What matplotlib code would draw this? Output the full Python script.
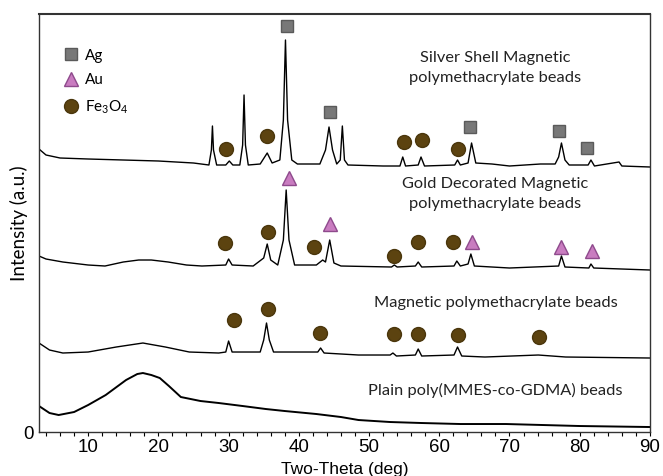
import matplotlib
matplotlib.use('Agg')
import matplotlib.pyplot as plt
from matplotlib.lines import Line2D

plt.rcParams['mathtext.fontset'] = 'custom'
plt.rcParams['mathtext.rm'] = 'Lato'

# XRD patterns (two-theta in deg, intensity in a.u.)
silver_x = [3.0, 4.0, 6.0, 10.0, 15.0, 20.0, 25.0, 27.2, 27.55, 27.7, 27.85, 28.3,
            29.6, 30.1, 30.6, 31.6, 32.0, 32.2, 32.4, 32.8, 34.5, 35.5, 36.2,
            37.3, 37.8, 38.1, 38.4, 39.0, 39.8, 43.0, 43.8, 44.3, 44.8, 45.4,
            45.9, 46.2, 46.5, 47.0, 52.0, 54.4, 54.8, 55.2, 57.0, 57.4, 57.9,
            62.2, 62.6, 63.0, 64.1, 64.6, 65.2, 67.5, 70.0, 74.4, 76.5, 77.0,
            77.4, 77.9, 78.5, 81.2, 81.6, 82.1, 85.6, 86.0, 90.0]
silver_y = [283, 277, 274, 273, 272, 271, 269, 267, 282, 306, 282, 267,
            267, 271, 267, 267, 287, 337, 287, 267, 268, 279, 269,
            272, 312, 392, 312, 272, 268, 268, 282, 305, 282, 268,
            272, 306, 272, 267, 266, 266, 275, 266, 267, 275, 266,
            267, 272, 267, 269, 289, 269, 268, 266, 268, 268, 275,
            289, 272, 267, 267, 272, 266, 270, 266, 265]

gold_x = [3.0, 4.0, 6.4, 10.0, 12.4, 15.0, 17.2, 19.0, 21.4, 24.0, 26.2, 29.6,
          30.0, 30.5, 33.5, 35.0, 35.5, 36.0, 37.0, 37.8, 38.2, 38.6, 39.4,
          42.5, 43.4, 43.8, 44.4, 45.0, 46.0, 53.2, 53.6, 54.0, 56.6, 57.0,
          57.5, 62.1, 62.5, 63.0, 64.1, 64.5, 65.0, 70.0, 77.0, 77.4, 77.9,
          81.3, 81.6, 82.0, 86.0, 90.0]
gold_y = [176, 173, 170, 167, 166, 170, 172, 172, 170, 167, 166, 167,
          173, 167, 166, 174, 188, 172, 167, 192, 242, 192, 167,
          167, 172, 170, 192, 169, 166, 165, 167, 165, 166, 170,
          165, 166, 171, 166, 168, 178, 166, 164, 166, 176, 165,
          164, 168, 164, 163, 162]

magnetic_x = [3.0, 4.5, 6.4, 10.0, 14.0, 17.8, 21.0, 24.4, 28.6, 29.6, 30.0,
              30.5, 34.5, 35.0, 35.4, 35.8, 36.4, 39.5, 42.7, 43.1, 43.6, 48.5,
              53.0, 53.4, 53.9, 56.6, 57.0, 57.5, 62.1, 62.6, 63.2, 66.5, 74.1,
              78.0, 90.0]
magnetic_y = [89, 82, 79, 80, 85, 89, 85, 80, 79, 80, 91,
              80, 80, 92, 109, 92, 80, 80, 80, 84, 79, 77,
              77, 79, 76, 77, 83, 76, 77, 85, 76, 75, 77,
              75, 74]

plain_x = [3.0, 4.5, 5.8, 8.0, 10.0, 12.5, 15.4, 17.0, 17.8, 19.0, 20.2, 21.5,
           23.2, 26.0, 28.6, 32.0, 35.3, 38.0, 42.5, 46.0, 48.5, 53.0, 57.5,
           63.0, 69.5, 80.0, 90.0]
plain_y = [26, 19, 17, 20, 27, 37, 52, 58, 59, 57, 54, 46,
           35, 31, 29, 26, 23, 21, 18, 15, 12, 10, 9,
           8, 8, 6, 5]

# phase markers
ag_x = [38.3, 44.5, 64.4, 77.0, 81.0]
ag_y = [406, 320, 305, 301, 284]
au_x = [38.6, 44.5, 64.6, 77.4, 81.8]
au_y = [254, 208, 190, 185, 181]
fe_x = [29.6, 35.5, 55.0, 57.6, 62.6,
        29.5, 35.6, 42.1, 53.6, 57.0, 62.0,
        30.8, 35.6, 43.0, 53.5, 57.0, 62.6, 74.2]
fe_y = [283, 296, 290, 292, 283,
        189, 200, 185, 176, 190, 190,
        112, 123, 99, 98, 98, 97, 95]

labels = ['Silver Shell Magnetic\npolymethacrylate beads',
          'Gold Decorated Magnetic\npolymethacrylate beads',
          'Magnetic polymethacrylate beads',
          'Plain poly(MMES-co-GDMA) beads']
label_y = [364, 238, 129, 42]

sq_style = dict(marker='s', ms=9, mfc='#787878', mec='#5a5a5a', ls='none')
tri_style = dict(marker='^', ms=10, mfc='#c97cc0', mec='#8e4a8c', ls='none')
circ_style = dict(marker='o', ms=10, mfc='#5c4310', mec='#4a360c', ls='none')

fig = plt.figure(figsize=(6.63, 4.76), dpi=100)
ax = fig.add_axes([0.0588, 0.0924, 0.9215, 0.8782])

for xs, ys, lw in [(silver_x, silver_y, 1.0), (gold_x, gold_y, 1.0),
                   (magnetic_x, magnetic_y, 1.0), (plain_x, plain_y, 1.4)]:
    ax.plot(xs, ys, color='black', lw=lw)

ax.plot(ag_x, ag_y, **sq_style)
ax.plot(au_x, au_y, **tri_style)
ax.plot(fe_x, fe_y, **circ_style)

for txt, yy in zip(labels, label_y):
    ax.text(68.0, yy, txt, ha='center', va='center', fontsize=11.8,
            family='Lato', color='#222222', linespacing=1.6)

handles = [Line2D([], [], **sq_style), Line2D([], [], **tri_style),
           Line2D([], [], **circ_style)]
ax.legend(handles, ['Ag', 'Au', r'Fe$_\mathregular{3}$O$_\mathregular{4}$'],
          loc='upper left', bbox_to_anchor=(0.02, 0.95), frameon=False,
          handlelength=0.8, handletextpad=0.5, labelspacing=0.7,
          prop={'family': 'Lato', 'size': 11})

ax.set_xlim(3, 90)
ax.set_ylim(0, 418)
ax.set_xticks(range(10, 91, 10))
ax.set_xticks(range(4, 91, 2), minor=True)
ax.tick_params(axis='x', which='both', direction='out', length=3, width=0.8,
               labelsize=13.5, pad=2)
ax.set_yticks([0])
ax.tick_params(axis='y', length=0, labelsize=13.5, pad=4)
for lab in ax.get_xticklabels() + ax.get_yticklabels():
    lab.set_family('Liberation Sans')

for s in ax.spines.values():
    s.set_color('#333333')
    s.set_linewidth(1.0)
ax.spines['top'].set_linewidth(1.5)

ax.set_xlabel('Two-Theta (deg)', fontsize=12.5, family='Liberation Sans', labelpad=4)
ax.set_ylabel('Intensity (a.u.)', fontsize=13.5, family='Lato')
ax.yaxis.set_label_coords(-0.018, 0.5)

fig.savefig('out.png', dpi=100)
